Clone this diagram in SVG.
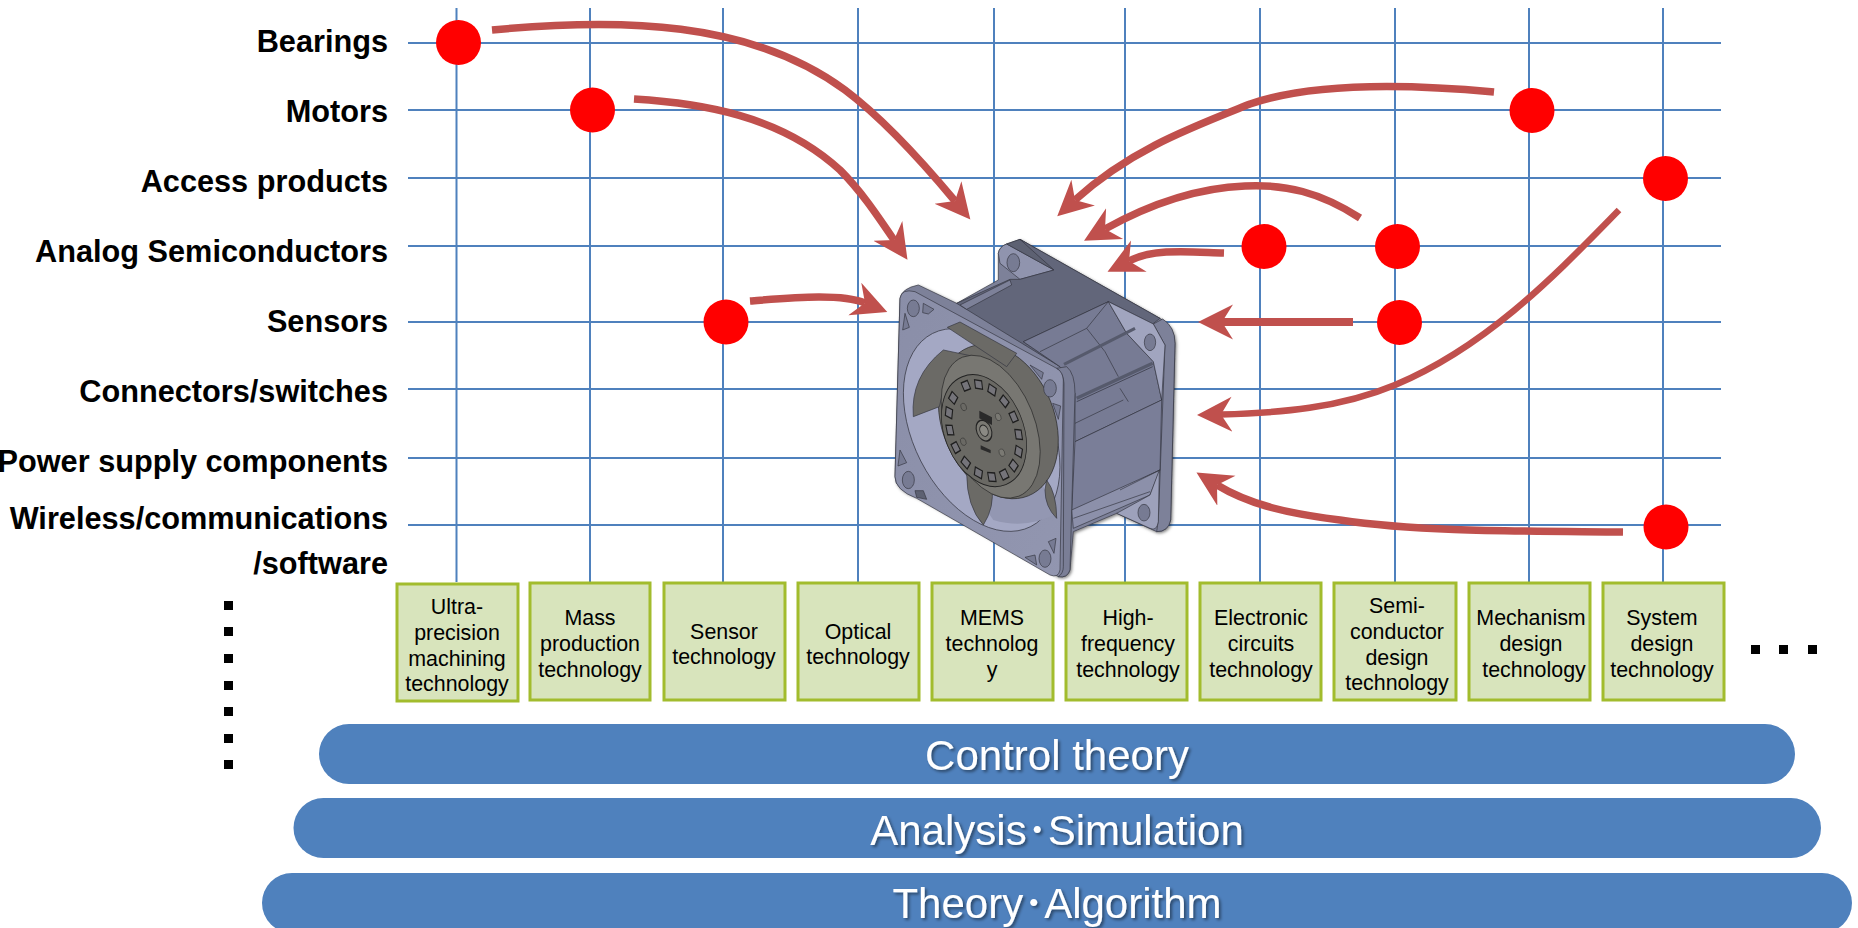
<svg xmlns="http://www.w3.org/2000/svg" xmlns:xlink="http://www.w3.org/1999/xlink" width="1858" height="928" viewBox="0 0 1858 928">
<style>
text{font-family:"Liberation Sans",Arial,"Noto Sans CJK JP",sans-serif}
.lab{font-size:30.7px;font-weight:700;text-anchor:end;fill:#000}
.t{font-size:21.4px;text-anchor:middle;fill:#000}
.b{fill:#D8E4BC;stroke:#A2BC2D;stroke-width:3}
.p{fill:#4F81BD}
.pt{font-size:42px;text-anchor:middle;fill:#fff;filter:url(#ts)}
.g{stroke:#4F81BD;stroke-width:2;fill:none}
.c{fill:#f00}
.d{fill:#000}
.a{fill:none;stroke:#C0504D;stroke-width:7.500;marker-end:url(#st)}
.f{stroke:#33353f;stroke-width:2;stroke-linejoin:round}
.l{fill:none;stroke:#33353f;stroke-width:2}
.h{fill:#777b93;stroke:#33353f;stroke-width:2}
</style>
<defs>
<marker id="st" markerUnits="userSpaceOnUse" markerWidth="40" markerHeight="40" refX="11" refY="20" orient="auto"><path d="M0,2.500 L35,20 L0,37.500 L11,20 Z" fill="#C0504D"/></marker>
<filter id="ts" x="-5%" y="-20%" width="110%" height="140%"><feDropShadow dx="2" dy="2" stdDeviation="1.500" flood-color="#000" flood-opacity=".45"/></filter>
<filter id="fs" x="-10%" y="-10%" width="125%" height="125%"><feDropShadow dx="4" dy="4" stdDeviation="4" flood-color="#000" flood-opacity=".5"/></filter>
<linearGradient id="fr" x1="0" y1="0" x2="1" y2="1"><stop offset="0" stop-color="#8a8ea8"/><stop offset="1" stop-color="#9296b0"/></linearGradient>
<rect id="sq" x="-10" y="-9" width="20" height="18" fill="#75747a" stroke="#1e1e1e" stroke-width="3"/>
</defs>

<g id="grid" class="g">
<path d="M408,43H1721M408,110H1721M408,178H1721M408,246H1721M408,322H1721M408,389H1721M408,458H1721M408,525H1721"/>
<path d="M456.500,8V582M590,8V582M723,8V582M858,8V582M994,8V582M1125,8V582M1260,8V582M1395,8V582M1529,8V582M1663,8V582"/>
</g>

<g id="row-labels">
<text class="lab" x="388" y="52">Bearings</text>
<text class="lab" x="388" y="122">Motors</text>
<text class="lab" x="388" y="192">Access products</text>
<text class="lab" x="388" y="262">Analog Semiconductors</text>
<text class="lab" x="388" y="332">Sensors</text>
<text class="lab" x="388" y="402">Connectors/switches</text>
<text class="lab" x="388" y="472">Power supply components</text>
<text class="lab" x="388" y="529">Wireless/communications</text>
<text class="lab" x="388" y="574">/software</text>
</g>

<g id="fan" transform="translate(860,220) scale(.33333)">
<g filter="url(#fs)">
<path class="f" d="M415,100Q418,80 440,72L480,58L900,295Q945,320 945,370L932,900Q925,935 890,935L770,880L640,935L630,1050Q622,1075 595,1070L170,830Q105,810 105,770L120,235Q125,205 175,195L290,250L415,180Z" fill="#7d8199"/>
</g>
<path class="f" d="M415,100Q418,80 440,72L582,150L480,178L420,130Z" fill="#9094ae"/>
<path class="f" d="M440,72L480,58L600,130L582,150Z" fill="#5d6172"/>
<ellipse class="h" cx="460" cy="128" rx="19" ry="27"/>
<path class="f" d="M290,250L450,178L480,178L582,150L480,58L900,295L878,312L745,245L490,365L600,440Z" fill="#62667a"/>
<path class="f" d="M300,255L450,180L455,195L320,268Z" fill="#7d8199"/>
<path class="f" d="M880,312L908,297Q945,320 945,370L932,900Q925,935 890,935L895,900L915,375Z" fill="#7d8199"/>
<path class="f" d="M600,440L490,365L745,245L800,340L880,425L905,540L645,665L645,520Z" fill="#777b94"/>
<path class="f" d="M745,245L880,312L915,375L905,540L880,425L800,340Z" fill="#a1a5bf"/>
<path class="f" d="M645,665L905,540L900,750L635,880Z" fill="#7a7e98"/>
<path class="l" d="M680,325L745,245M540,395L680,325L735,395L775,470M780,505L805,545M645,610L790,540"/>
<path d="M612,433L825,325" stroke="#565a6c" stroke-width="9"/>
<path d="M650,535L878,430" stroke="#565a6c" stroke-width="10"/>
<path d="M650,545L878,440" stroke="#2c2e38" stroke-width="2"/>
<ellipse class="h" cx="870" cy="367" rx="17" ry="25"/>
<path class="f" d="M635,870L900,750L870,825L640,925Z" fill="#8c90aa"/>
<path class="l" d="M640,895L870,815M780,810L900,750"/>
<path class="f" d="M770,880L870,825L898,750L895,905Q890,935 870,925Z" fill="#9da1bb"/>
<ellipse class="h" cx="852" cy="878" rx="18" ry="25"/>
<path class="f" d="M120,235Q125,205 165,215L590,445Q610,455 610,480L600,1050Q595,1075 570,1065L170,835Q105,810 105,770Z" fill="url(#fr)"/>
<path class="f" d="M590,445L620,440Q645,460 645,520L630,1050Q622,1075 595,1070Q610,1060 610,1040L612,490Q610,455 590,445Z" fill="#7a7e96"/>
<ellipse cx="365" cy="630" rx="205" ry="325" transform="rotate(-27 365 630)" fill="#a4a8c4" stroke="#33353f" stroke-width="2"/>
<path d="M400,900Q350,830 320,760L500,700L590,880Q500,930 400,900Z" fill="#9397b2"/>
<ellipse cx="415" cy="605" rx="168" ry="240" transform="rotate(-22 415 605)" fill="#6b6a66" stroke="#2a2a2a" stroke-width="2"/>
<path class="f" d="M262,322L300,306L470,400L440,440Z" fill="#6b6a66"/>
<path class="f" d="M160,590Q150,470 250,390L345,410L255,490L238,560Z" fill="#6b6a66"/>
<path class="f" d="M320,760Q320,860 370,915Q405,860 395,800Z" fill="#6b6a66"/>
<path class="f" d="M560,780Q590,820 590,895Q555,860 555,810Z" fill="#6b6a66"/>
<ellipse cx="392" cy="620" rx="132" ry="225" transform="rotate(-22 392 620)" fill="#787772" stroke="#2a2a2a" stroke-width="2"/>
<g transform="translate(372,632) rotate(-22) scale(1,1.48)">
<circle r="118" fill="#6a6964" stroke="#222" stroke-width="2"/>
<use xlink:href="#sq" href="#sq" transform="rotate(0) translate(0,-98)"/>
<use xlink:href="#sq" href="#sq" transform="rotate(22) translate(0,-98)"/>
<use xlink:href="#sq" href="#sq" transform="rotate(44) translate(0,-98)"/>
<use xlink:href="#sq" href="#sq" transform="rotate(66) translate(0,-98)"/>
<use xlink:href="#sq" href="#sq" transform="rotate(88) translate(0,-98)"/>
<use xlink:href="#sq" href="#sq" transform="rotate(110) translate(0,-98)"/>
<use xlink:href="#sq" href="#sq" transform="rotate(132) translate(0,-98)"/>
<use xlink:href="#sq" href="#sq" transform="rotate(154) translate(0,-98)"/>
<use xlink:href="#sq" href="#sq" transform="rotate(176) translate(0,-98)"/>
<use xlink:href="#sq" href="#sq" transform="rotate(198) translate(0,-98)"/>
<use xlink:href="#sq" href="#sq" transform="rotate(220) translate(0,-98)"/>
<use xlink:href="#sq" href="#sq" transform="rotate(242) translate(0,-98)"/>
<use xlink:href="#sq" href="#sq" transform="rotate(264) translate(0,-98)"/>
<use xlink:href="#sq" href="#sq" transform="rotate(286) translate(0,-98)"/>
<use xlink:href="#sq" href="#sq" transform="rotate(308) translate(0,-98)"/>
<use xlink:href="#sq" href="#sq" transform="rotate(330) translate(0,-98)"/>
<circle r="22" fill="#7a7973" stroke="#222" stroke-width="3"/>
<circle r="12" fill="#8b8a84" stroke="#222" stroke-width="2"/>
<circle cx="-30" cy="-60" r="8" fill="#6a6964" stroke="#222"/>
<circle cx="55" cy="-15" r="8" fill="#7a7973" stroke="#222"/>
<circle cx="-70" cy="5" r="8" fill="#6a6964" stroke="#222"/>
<circle cx="25" cy="55" r="8" fill="#7a7973" stroke="#222"/>
</g>
<path d="M358,572L396,592L396,615L358,595ZM362,676L392,690L392,700L362,688Z" fill="#2a2a2a"/>
<ellipse class="h" cx="160" cy="265" rx="18" ry="25"/>
<path class="h" d="M190,250L222,268L205,282L188,278Z"/>
<path class="h" d="M135,280L148,322L128,330Z"/>
<ellipse class="h" cx="570" cy="505" rx="19" ry="26"/>
<path class="h" d="M510,435L550,458L545,478Z"/>
<path class="h" d="M578,550L602,558L595,598Z"/>
<ellipse class="h" cx="145" cy="780" rx="18" ry="26"/>
<path class="h" d="M120,690L140,728L114,738Z"/>
<ellipse class="h" cx="555" cy="1016" rx="18" ry="26"/>
<path class="h" d="M565,965L588,955L582,1000Z"/>
<path class="h" d="M495,1012L525,1005L530,1035Z"/>
<path class="f" d="M170,832L165,812L190,812L200,838Z" fill="#5d6172"/>
</g>

<g id="connectors">
<path class="a" d="M492,30C620,18 750,20 845,90C885,120 925,165 955,201"/>
<path class="a" d="M634,99C700,103 780,115 840,170C860,190 875,212 894,240"/>
<path class="a" d="M750,301C790,298 840,293 865,303"/>
<path class="a" d="M1494,92C1430,86 1320,80 1250,104C1190,128 1130,150 1075,200"/>
<path class="a" d="M1360,218C1320,192 1285,184 1245,186C1195,188 1150,204 1105,229"/>
<path class="a" d="M1224,253C1190,252 1155,248 1129,261"/>
<path class="a" style="stroke-width:8" d="M1353,322H1222"/>
<path class="a" style="stroke-width:6.500" d="M1619,210C1560,270 1490,345 1395,385C1340,408 1280,413 1221,414.500"/>
<path class="a" d="M1623,532C1520,531 1420,532 1340,520C1290,514 1250,505 1217,485"/>
</g>

<g id="markers">
<circle class="c" cx="458.500" cy="42.500" r="22.500"/>
<circle class="c" cx="592.500" cy="110" r="22.500"/>
<circle class="c" cx="1532" cy="110.500" r="22.500"/>
<circle class="c" cx="1665.500" cy="178.500" r="22.500"/>
<circle class="c" cx="1264" cy="246.500" r="22.500"/>
<circle class="c" cx="1397.500" cy="246.500" r="22.500"/>
<circle class="c" cx="726" cy="322" r="22.500"/>
<circle class="c" cx="1399.500" cy="322.500" r="22.500"/>
<circle class="c" cx="1666" cy="527" r="22.500"/>
</g>

<g id="box-ultra"><rect class="b" x="397" y="584" width="121" height="117"/><text class="t"><tspan x="457" y="614">Ultra-</tspan><tspan x="457" y="640">precision</tspan><tspan x="457" y="665.500">machining</tspan><tspan x="457" y="691">technology</tspan></text></g>
<g id="box-mass"><rect class="b" x="530" y="583" width="120" height="117"/><text class="t"><tspan x="590" y="625">Mass</tspan><tspan x="590" y="651">production</tspan><tspan x="590" y="677">technology</tspan></text></g>
<g id="box-sensor"><rect class="b" x="664" y="583" width="121" height="117"/><text class="t"><tspan x="724" y="639">Sensor</tspan><tspan x="724" y="664">technology</tspan></text></g>
<g id="box-optical"><rect class="b" x="798" y="583" width="121" height="117"/><text class="t"><tspan x="858" y="639">Optical</tspan><tspan x="858" y="664">technology</tspan></text></g>
<g id="box-mems"><rect class="b" x="932" y="583" width="121" height="117"/><text class="t"><tspan x="992" y="625">MEMS</tspan><tspan x="992" y="651">technolog</tspan><tspan x="992" y="677">y</tspan></text></g>
<g id="box-hf"><rect class="b" x="1066" y="583" width="121" height="117"/><text class="t"><tspan x="1128" y="625">High-</tspan><tspan x="1128" y="651">frequency</tspan><tspan x="1128" y="677">technology</tspan></text></g>
<g id="box-elec"><rect class="b" x="1200" y="583" width="121" height="117"/><text class="t"><tspan x="1261" y="625">Electronic</tspan><tspan x="1261" y="651">circuits</tspan><tspan x="1261" y="677">technology</tspan></text></g>
<g id="box-semi"><rect class="b" x="1334" y="583" width="122" height="117"/><text class="t"><tspan x="1397" y="613">Semi-</tspan><tspan x="1397" y="639">conductor</tspan><tspan x="1397" y="665">design</tspan><tspan x="1397" y="690">technology</tspan></text></g>
<g id="box-mech"><rect class="b" x="1469" y="583" width="121" height="117"/><text class="t"><tspan x="1531" y="625">Mechanism</tspan><tspan x="1531" y="651">design</tspan><tspan x="1534" y="677">technology</tspan></text></g>
<g id="box-sys"><rect class="b" x="1603" y="583" width="121" height="117"/><text class="t"><tspan x="1662" y="625">System</tspan><tspan x="1662" y="651">design</tspan><tspan x="1662" y="677">technology</tspan></text></g>

<g id="vdots">
<rect class="d" x="224" y="601" width="9" height="9"/>
<rect class="d" x="224" y="627" width="9" height="9"/>
<rect class="d" x="224" y="654" width="9" height="9"/>
<rect class="d" x="224" y="681" width="9" height="9"/>
<rect class="d" x="224" y="707" width="9" height="9"/>
<rect class="d" x="224" y="734" width="9" height="9"/>
<rect class="d" x="224" y="760" width="9" height="9"/>
</g>
<g id="hdots">
<rect class="d" x="1751" y="645" width="9" height="9"/>
<rect class="d" x="1779" y="645" width="9" height="9"/>
<rect class="d" x="1808" y="645" width="9" height="9"/>
</g>

<g id="pill-control"><rect class="p" x="319" y="724" width="1476" height="60" rx="30"/><text class="pt" x="1057" y="770">Control theory</text></g>
<g id="pill-analysis"><rect class="p" x="293.500" y="798" width="1527.500" height="60" rx="30"/><text class="pt" x="1057" y="845">Analysis･Simulation</text></g>
<g id="pill-theory"><rect class="p" x="262" y="873" width="1590" height="60" rx="30"/><text class="pt" x="1057" y="918">Theory･Algorithm</text></g>
</svg>
